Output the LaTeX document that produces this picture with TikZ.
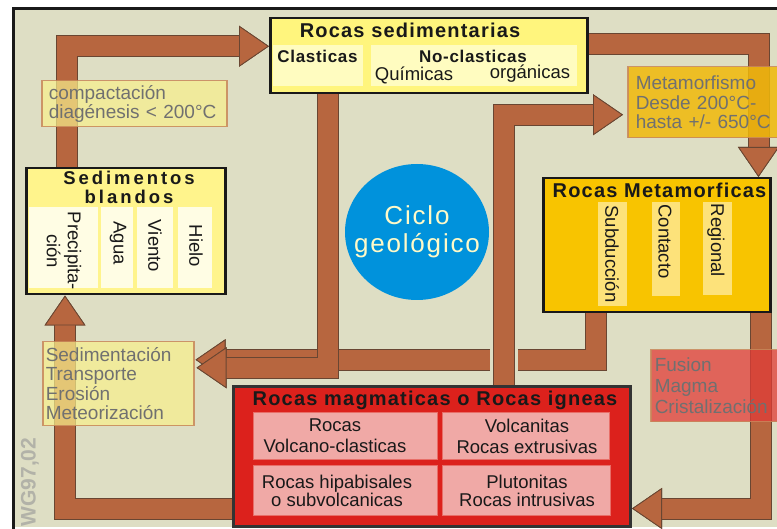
\documentclass[tikz,border=0pt]{standalone}
\usepackage{fontspec}
\setmainfont{Liberation Sans}
\newfontfamily\ttlfont[LetterSpace=6]{Liberation Sans}
\newfontfamily\spcfont[LetterSpace=16]{Liberation Sans}
\newfontfamily\subfont[LetterSpace=4]{Liberation Sans}
\newfontfamily\cicfont[LetterSpace=7]{Liberation Sans}
\usetikzlibrary{arrows.meta, positioning, shapes.geometric}
\definecolor{bgbeige}{RGB}{222,222,196}
\definecolor{flowbrown}{RGB}{183,102,63}
\definecolor{flowedge}{RGB}{105,70,50}
\definecolor{sedyel}{RGB}{255,245,125}
\definecolor{palyel}{RGB}{255,252,192}
\definecolor{blandyel}{RGB}{255,244,140}
\definecolor{colcream}{RGB}{255,253,228}
\definecolor{metgold}{RGB}{248,196,0}
\definecolor{metcol}{RGB}{253,226,122}
\definecolor{magred}{RGB}{220,33,28}
\definecolor{magpink}{RGB}{240,169,166}
\definecolor{magline}{RGB}{232,110,104}
\definecolor{lblpale}{RGB}{248,240,140}
\definecolor{lblgold}{RGB}{240,185,10}
\definecolor{lblred}{RGB}{225,60,55}
\definecolor{lbledge}{RGB}{200,135,90}
\definecolor{lbltext}{RGB}{112,112,112}
\definecolor{ciclblue}{RGB}{0,146,220}
\definecolor{cicltext}{RGB}{255,250,200}
\definecolor{wggray}{RGB}{178,178,168}
\pgfdeclarelayer{back}
\pgfdeclarelayer{flows}
\pgfsetlayers{back,flows,main}
\tikzset{
  box/.style={rectangle, anchor=north west, inner sep=0pt, line width=2.5pt, draw=black!90},
  sz/.style 2 args={minimum width=#1pt, minimum height=#2pt},
  yelbox/.style={box, fill=sedyel},
  blandbox/.style={box, fill=blandyel},
  metbox/.style={box, fill=metgold},
  magbox/.style={box, fill=magred, draw=black!80, line width=3pt},
  palebox/.style={rectangle, anchor=north west, inner sep=0pt, fill=palyel},
  colbox/.style={palebox, fill=colcream},
  metcolbox/.style={palebox, fill=metcol},
  pinkbox/.style={palebox, fill=magpink, draw=magline, line width=0.8pt},
  ttl/.style={font=\ttlfont\bfseries\fontsize{20}{21}\selectfont, inner sep=0pt, anchor=base, text=black!90},
  spcttl/.style={font=\spcfont\bfseries\fontsize{18.5}{19}\selectfont, inner sep=0pt, align=center, text=black!90},
  subttl/.style={font=\subfont\bfseries\fontsize{17}{18}\selectfont, inner sep=0pt, anchor=base, text=black!90},
  plain/.style={font=\fontsize{18.5}{21}\selectfont, inner sep=0pt, align=center, text=black!90},
  coltxt/.style={font=\fontsize{18.5}{21}\selectfont, inner sep=0pt, text=black!90},
  lblbox/.style={rectangle, anchor=north west, inner ysep=0pt, draw=lbledge, draw opacity=0.85,
                 line width=1.5pt, text opacity=1, text=lbltext, align=left,
                 font=\fontsize{19}{19.5}\selectfont},
  wgtxt/.style={font=\bfseries\fontsize{21}{21}\selectfont, text=wggray, inner sep=0pt},
  flow/.style={draw=flowbrown, line width=20pt, line join=miter,
               -{Triangle[length=30pt, width=41pt, line width=0.8pt, color=flowedge, fill=flowbrown]},
               preaction={draw=flowedge, line width=22pt,
                          -{Triangle[length=30pt, width=41pt, line width=0.8pt]}}},
  bridge/.style={preaction={draw=bgbeige, line width=28pt,
                            -{Triangle[length=30pt, width=41pt, line width=0.8pt]}}},
}
\begin{document}
\begin{tikzpicture}[x=1pt, y=-1pt]
  \useasboundingbox (0,0) rectangle (777,529);
  % frame
  \begin{pgfonlayer}{back}
    \fill[bgbeige] (13.5,8.5) rectangle (790,527);
    \draw[line width=3pt, black!90] (13.5,540) -- (13.5,8.5) -- (790,8.5);
  \end{pgfonlayer}
  \node[wgtxt, rotate=90] (wg) at (30,482) {WG97,02};

  % Rocas sedimentarias
  \node[yelbox, sz={317}{75}] (sed) at (269,17) {};
  \node[ttl] (sedt) at (410,38) {Rocas sedimentarias};
  \node[palebox, sz={90}{41}] (clas) at (273,45) {};
  \node[palebox, sz={206}{41}] (nocl) at (371,45) {};
  \node[subttl] (clast) at (317.5,63) {Clasticas};
  \node[subttl] (noclt) at (473,63) {No-clasticas};
  \node[plain, anchor=base] (quim) at (414,81) {Químicas};
  \node[plain, anchor=base] (orga) at (530,79) {orgánicas};

  % Sedimentos blandos
  \node[blandbox, sz={199}{126}] (bla) at (25,167) {};
  \node[spcttl] (blat) at (129,187.5) {Sedimentos\\blandos};
  \node[colbox, sz={69}{81}] (c1) at (29,207) {};
  \node[colbox, sz={32}{81}] (c2) at (101,207) {};
  \node[colbox, sz={36}{81}] (c3) at (137,207) {};
  \node[colbox, sz={34}{81}] (c4) at (178,207) {};
  \node[coltxt, rotate=-90, align=center] (c1t) at (64,251) {Precipita-\\ción};
  \node[coltxt, rotate=-90] (c2t) at (118,243) {Agua};
  \node[coltxt, rotate=-90] (c3t) at (155,246) {Viento};
  \node[coltxt, rotate=-90] (c4t) at (196,246) {Hielo};

  % Rocas Metamorficas
  \node[metbox, sz={227}{134}] (met) at (542,177) {};
  \node[ttl] (mett) at (659.5,198) {Rocas Metamorficas};
  \node[metcolbox, sz={29}{104}] (m1) at (598,202) {};
  \node[metcolbox, sz={28}{94}] (m2) at (652,202) {};
  \node[metcolbox, sz={29}{93}] (m3) at (703,202) {};
  \node[coltxt, rotate=-90] (m1t) at (612,254) {Subducción};
  \node[coltxt, rotate=-90] (m2t) at (665,241.5) {Contacto};
  \node[coltxt, rotate=-90] (m3t) at (716,240.5) {Regional};

  % Rocas magmaticas
  \node[magbox, sz={397}{140}] (mag) at (232,385) {};
  \node[ttl] (magt) at (435,406) {Rocas magmaticas o Rocas igneas};
  \node[pinkbox, sz={184}{47}] (p1) at (253,412) {};
  \node[pinkbox, sz={167}{47}] (p2) at (442,412) {};
  \node[pinkbox, sz={184}{50}] (p3) at (253,465) {};
  \node[pinkbox, sz={168}{50}] (p4) at (442,465) {};
  \node[plain] (p1t) at (335,436) {Rocas\\Volcano-clasticas};
  \node[plain] (p2t) at (527,436) {Volcanitas\\Rocas extrusivas};
  \node[plain, font=\fontsize{18.5}{18.5}\selectfont] (p3t) at (337,491) {Rocas hipabisales\\o subvolcanicas};
  \node[plain, font=\fontsize{18.5}{18.5}\selectfont] (p4t) at (527,491) {Plutonitas\\Rocas intrusivas};

  % ciclo
  \node[ellipse, fill=ciclblue, minimum width=144pt, minimum height=136pt, inner sep=0pt] (cic) at (417,232) {};
  \node[text=cicltext, font=\cicfont\fontsize{26}{28}\selectfont, align=center, inner sep=0pt] (cict) at (cic.center) {Ciclo\\geológico};

  % labels
  \node[lblbox, fill=lblpale, fill opacity=0.7, sz={185}{46}, text width=171pt, inner xsep=7pt] (lcomp) at (41,80) {compactación\\diagénesis < 200°C};
  \node[lblbox, fill=lblgold, fill opacity=0.85, sz={163}{71}, text width=147pt, inner xsep=8pt] (lmeta) at (627,66) {Metamorfismo\\Desde 200°C-\\hasta +/- 650°C};
  \node[lblbox, fill=lblpale, fill opacity=0.7, sz={151}{84}, text width=145pt, inner xsep=3pt] (lsed) at (42,341) {Sedimentación\\Transporte\\Erosión\\Meteorización};
  \node[lblbox, fill=lblred, fill opacity=0.75, sz={140}{72}, text width=132pt, inner xsep=4pt, font=\fontsize{19}{21}\selectfont] (lfus) at (650,349) {Fusion\\Magma\\Cristalización};

  % flows
  \begin{pgfonlayer}{flows}
    \draw[flow] ([xshift=42pt,yshift=-5pt]bla.north west) |- ([yshift=9.5pt]sed.west);
    \draw[flow] ([xshift=-5pt,yshift=11.5pt]sed.east) -| ([xshift=-13pt]met.north east);
    \draw[flow] ([xshift=54pt,yshift=5pt]met.south west) |- ([xshift=1pt,yshift=24pt]lsed.east);
    \draw[flow] ([xshift=59pt,yshift=5pt]sed.south west) |- ([xshift=2pt,yshift=16pt]lsed.east);
    \draw[bridge, flow] ([xshift=272pt,yshift=-5pt]mag.north west) |- ([xshift=-4pt,yshift=-12.5pt]lmeta.west);
    \draw[flow] ([xshift=-11pt,yshift=5pt]met.south east) |- ([yshift=-52pt]mag.east);
    \draw[flow] ([xshift=5pt,yshift=-52pt]mag.west) -| ([xshift=40pt]bla.south west);
  \end{pgfonlayer}
\end{tikzpicture}
\end{document}
